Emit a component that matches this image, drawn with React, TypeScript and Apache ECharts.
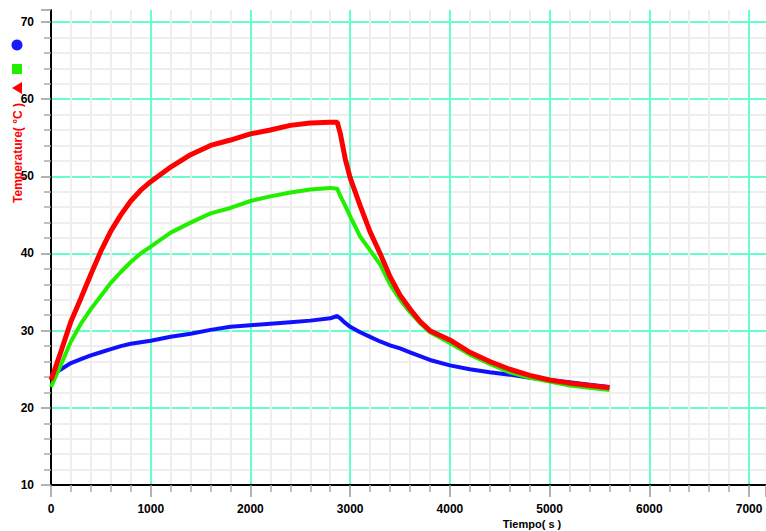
import React, { useEffect, useRef } from "react";
import * as echarts from "echarts";

const times = [0, 100, 200, 300, 400, 500, 600, 700, 800, 900, 1000, 1200, 1400, 1600, 1800, 2000, 2200, 2400, 2600, 2800, 2870, 2900, 2950, 3000, 3100, 3200, 3300, 3400, 3500, 3600, 3700, 3800, 4000, 4200, 4400, 4600, 4800, 5000, 5200, 5400, 5600];

const redValues = [23.6, 27.3, 31.2, 34.2, 37.3, 40.3, 42.9, 45.0, 46.8, 48.2, 49.3, 51.2, 52.8, 54.0, 54.7, 55.5, 56.0, 56.6, 56.9, 57.0, 57.0, 55.6, 52.3, 49.8, 46.2, 42.8, 40.0, 37.0, 34.6, 32.8, 31.2, 30.0, 28.8, 27.2, 26.0, 25.0, 24.2, 23.6, 23.2, 22.9, 22.6];

const greenValues = [22.7, 25.6, 28.6, 30.9, 32.8, 34.5, 36.2, 37.6, 38.9, 40.0, 40.9, 42.7, 44.0, 45.2, 45.9, 46.8, 47.4, 47.9, 48.3, 48.5, 48.4, 47.5, 46.2, 44.8, 42.2, 40.4, 38.6, 36.0, 34.0, 32.4, 31.0, 29.8, 28.4, 26.9, 25.7, 24.6, 23.9, 23.4, 22.9, 22.6, 22.3];

const blueValues = [24.2, 25.0, 25.8, 26.3, 26.8, 27.2, 27.6, 28.0, 28.3, 28.5, 28.7, 29.2, 29.6, 30.1, 30.5, 30.7, 30.9, 31.1, 31.3, 31.6, 31.9, 31.6, 31.0, 30.5, 29.8, 29.2, 28.6, 28.1, 27.7, 27.2, 26.7, 26.2, 25.5, 25.0, 24.6, 24.3, 23.9, 23.6, 23.3, 23.0, 22.7];

const xTitle = "Tiempo( s )";
const yTitle = "Temperature( °C )";

const pairs = (vals: number[]) => times.map((t, i) => [t, vals[i]]);

export default function App() {
  const ref = useRef<HTMLDivElement>(null);
  useEffect(() => {
    document.body.style.margin = "0";
    const chart = echarts.init(ref.current!, undefined, { renderer: "svg" });
    const labelStyle = {
      color: "#000",
      fontSize: 12,
      fontWeight: "bold" as const,
      fontFamily: "Liberation Sans, Arial, sans-serif",
    };
    const isMajor = (v: number, step: number) => Math.abs(v / step - Math.round(v / step)) < 1e-6;
    chart.setOption({
      animation: false,
      backgroundColor: "#fff",
      grid: { left: 51, top: 10, right: 0, bottom: 46 },
      xAxis: {
        type: "value",
        min: 0,
        max: 7170,
        interval: 1000,
        axisLine: { show: true, lineStyle: { color: "#000", width: 2 } },
        axisTick: { show: true, length: 12, lineStyle: { color: "#999", width: 1.5 } },
        minorTick: { show: true, splitNumber: 5, length: 7, lineStyle: { color: "#aaa", width: 1.5 } },
        axisLabel: {
          ...labelStyle,
          margin: 18,
          showMaxLabel: false,
          formatter: (v: number) => (isMajor(v, 1000) ? String(v) : ""),
        },
        splitLine: { show: true, showMaxLine: false, lineStyle: { color: "#66ffcc", width: 2 } },
        minorSplitLine: { show: true, lineStyle: { color: "#eeeeee", width: 2 } },
      },
      yAxis: {
        type: "value",
        min: 10,
        max: 71.55,
        interval: 10,
        axisLine: { show: true, lineStyle: { color: "#000", width: 2 } },
        axisTick: { show: true, length: 10, lineStyle: { color: "#999", width: 1.5 } },
        minorTick: { show: true, splitNumber: 5, length: 7, lineStyle: { color: "#aaa", width: 1.5 } },
        axisLabel: {
          ...labelStyle,
          margin: 17,
          showMaxLabel: false,
          formatter: (v: number) => (isMajor(v, 10) ? String(v) : ""),
        },
        splitLine: { show: true, showMaxLine: false, lineStyle: { color: "#66ffcc", width: 2 } },
        minorSplitLine: { show: true, lineStyle: { color: "#eeeeee", width: 2 } },
      },
      series: [
        {
          type: "line",
          data: pairs(blueValues),
          showSymbol: false,
          lineStyle: { color: "#1010ff", width: 4 },
          z: 3,
        },
        {
          type: "line",
          data: pairs(greenValues),
          showSymbol: false,
          lineStyle: { color: "#22ee00", width: 4 },
          z: 4,
        },
        {
          type: "line",
          data: pairs(redValues),
          showSymbol: false,
          lineStyle: { color: "#ff0000", width: 5 },
          z: 5,
        },
      ],
      graphic: [
        { type: "circle", shape: { cx: 17, cy: 45, r: 5.5 }, style: { fill: "#1a1aff" }, z: 10 },
        { type: "rect", shape: { x: 12, y: 64, width: 10, height: 10 }, style: { fill: "#22ee00" }, z: 10 },
        {
          type: "polygon",
          shape: { points: [[12, 88], [22, 82], [22, 94]] },
          style: { fill: "#ff0000" },
          z: 10,
        },
        {
          type: "text",
          x: 18,
          y: 153,
          rotation: Math.PI / 2,
          style: {
            text: yTitle,
            fill: "#ff0000",
            fontSize: 12,
            fontWeight: "bold",
            fontFamily: "Liberation Sans, Arial, sans-serif",
            align: "center",
            verticalAlign: "middle",
          },
          z: 10,
        },
        {
          type: "text",
          x: 532,
          y: 524,
          style: {
            text: xTitle,
            fill: "#000",
            fontSize: 11,
            fontWeight: "bold",
            fontFamily: "Liberation Sans, Arial, sans-serif",
            align: "center",
            verticalAlign: "middle",
          },
          z: 10,
        },
      ],
    });
    return () => chart.dispose();
  }, []);
  return <div ref={ref} style={{ width: 766, height: 531 }} />;
}
